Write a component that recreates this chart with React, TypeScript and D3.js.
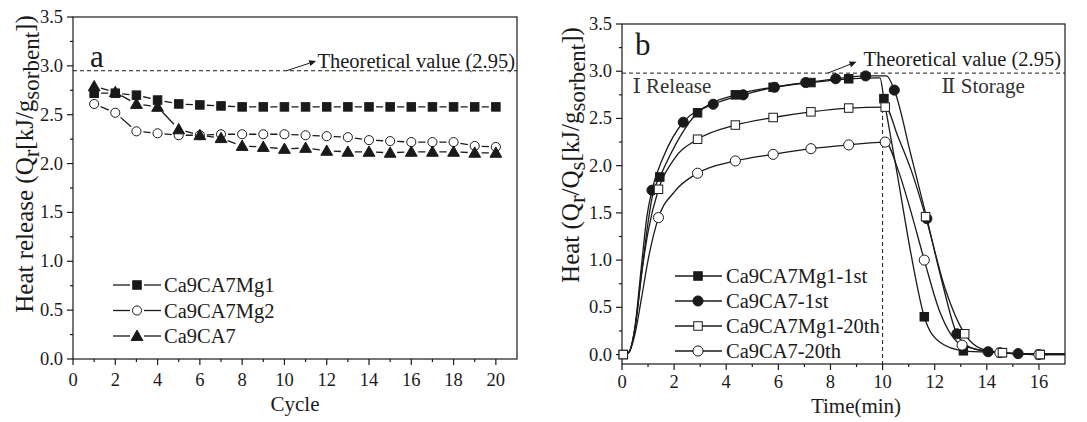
import * as d3 from "d3";

// ---- panel a: heat release per cycle ----
const cycles = [1, 2, 3, 4, 5, 6, 7, 8, 9, 10, 11, 12, 13, 14, 15, 16, 17, 18, 19, 20];
const releaseMg1 = [2.72, 2.72, 2.70, 2.65, 2.61, 2.60, 2.59, 2.58, 2.58, 2.58, 2.58, 2.58, 2.58, 2.58, 2.58, 2.58, 2.58, 2.58, 2.58, 2.58];
const releaseMg2 = [2.61, 2.52, 2.33, 2.31, 2.29, 2.29, 2.30, 2.30, 2.30, 2.30, 2.29, 2.28, 2.27, 2.24, 2.23, 2.22, 2.22, 2.22, 2.18, 2.17];
const releaseCa7 = [2.79, 2.73, 2.61, 2.58, 2.35, 2.29, 2.26, 2.18, 2.17, 2.15, 2.16, 2.13, 2.12, 2.12, 2.11, 2.12, 2.12, 2.12, 2.11, 2.11];

const cycleTicks = [0, 2, 4, 6, 8, 10, 12, 14, 16, 18, 20];
const heatTicks = [0, 0.5, 1, 1.5, 2, 2.5, 3, 3.5];
const timeTicks = [0, 2, 4, 6, 8, 10, 12, 14, 16];
const theoreticalA = 2.95;
const theoreticalB = 2.98;
const switchTime = 10;

// ---- panel b: heat vs time (markers) ----
const mg1FirstTime = [0.05, 1.45, 2.9, 4.35, 5.8, 7.25, 8.7, 10.05, 11.6, 13.1, 14.55, 16.05];
const mg1FirstHeat = [0.0, 1.88, 2.56, 2.75, 2.83, 2.88, 2.92, 2.71, 0.4, 0.04, 0.02, 0.0];
const ca7FirstTime = [1.15, 2.35, 3.5, 4.65, 5.85, 7.05, 8.2, 9.35, 10.45, 11.7, 12.85, 14.05, 15.2];
const ca7FirstHeat = [1.74, 2.46, 2.65, 2.75, 2.83, 2.88, 2.92, 2.95, 2.8, 1.44, 0.22, 0.03, 0.01];
const mg1LastTime = [0.05, 1.4, 2.9, 4.35, 5.8, 7.25, 8.7, 10.1, 11.65, 13.15, 14.6, 16.05];
const mg1LastHeat = [0.0, 1.75, 2.28, 2.43, 2.51, 2.57, 2.61, 2.62, 1.46, 0.22, 0.02, 0.0];
const ca7LastTime = [1.4, 2.9, 4.35, 5.8, 7.25, 8.7, 10.1, 11.6, 13.05, 14.5, 16.0];
const ca7LastHeat = [1.45, 1.92, 2.05, 2.12, 2.18, 2.22, 2.25, 1.0, 0.1, 0.02, 0.0];

// extra points
const mg1FirstKnotTime = [0, 0.25, 0.5, 0.75, 1.0, 1.2, 9.9, 10.6, 11.1, 12.2, 17];
const mg1FirstKnotHeat = [0, 0.02, 0.28, 0.85, 1.4, 1.72, 2.93, 1.85, 1.05, 0.13, 0.01];
const ca7FirstKnotTime = [0, 0.25, 0.5, 0.75, 0.95, 1.6, 10.15, 11.1, 12.3, 13.4, 17];
const ca7FirstKnotHeat = [0, 0.02, 0.3, 0.95, 1.45, 2.1, 2.95, 2.1, 0.75, 0.07, 0.01];
const mg1LastKnotTime = [0, 0.25, 0.5, 0.75, 1.0, 2.0, 10.6, 11.1, 12.4, 13.8, 17];
const mg1LastKnotHeat = [0, 0.02, 0.28, 0.85, 1.3, 2.07, 2.3, 1.95, 0.7, 0.06, 0.0];
const ca7LastKnotTime = [0, 0.25, 0.5, 0.75, 1.0, 2.0, 10.6, 11.1, 12.2, 17];
const ca7LastKnotHeat = [0, 0.02, 0.22, 0.6, 1.0, 1.72, 1.95, 1.5, 0.45, 0.0];

const FONT = "'Liberation Serif', 'DejaVu Serif', serif";
const INK = "#1a1a1a";

type Shape = "square" | "circle" | "triangle";

function Marker({ x, y, shape, filled, size = 9 }: { x: number; y: number; shape: Shape; filled: boolean; size?: number }) {
  const fill = filled ? INK : "#fff";
  const h = size / 2;
  if (shape === "square")
    return <rect x={x - h} y={y - h} width={size} height={size} fill={fill} stroke={INK} strokeWidth={1} />;
  if (shape === "circle") return <circle cx={x} cy={y} r={h + 0.3} fill={fill} stroke={INK} strokeWidth={1} />;
  const t = size * 0.62;
  return <path d={`M${x},${y - t}L${x + t},${y + t * 0.75}L${x - t},${y + t * 0.75}Z`} fill={fill} stroke={INK} strokeWidth={1} />;
}

function gapSegments(pts: [number, number][], gap: number) {
  const out: string[] = [];
  for (let i = 0; i < pts.length - 1; i++) {
    const [x0, y0] = pts[i];
    const [x1, y1] = pts[i + 1];
    const len = Math.hypot(x1 - x0, y1 - y0);
    if (len <= gap * 2 + 1) continue;
    const ux = (x1 - x0) / len;
    const uy = (y1 - y0) / len;
    out.push(`M${x0 + ux * gap},${y0 + uy * gap}L${x1 - ux * gap},${y1 - uy * gap}`);
  }
  return out.join("");
}

function Frame({ x, y, left, top, right, bottom, xTicks, xMinor, yTicks, yMinor }: any) {
  return (
    <g stroke={INK} strokeWidth={1.2} fill="none">
      <rect x={left} y={top} width={right - left} height={bottom - top} />
      {xTicks.map((t: number) => (
        <line key={"xt" + t} x1={x(t)} x2={x(t)} y1={bottom} y2={bottom + 6} />
      ))}
      {xMinor.map((t: number) => (
        <line key={"xm" + t} x1={x(t)} x2={x(t)} y1={bottom} y2={bottom + 3} />
      ))}
      {yTicks.map((t: number) => (
        <line key={"yt" + t} x1={left - 6} x2={left} y1={y(t)} y2={y(t)} />
      ))}
      {yMinor.map((t: number) => (
        <line key={"ym" + t} x1={left - 3} x2={left} y1={y(t)} y2={y(t)} />
      ))}
    </g>
  );
}

function TickLabels({ x, y, left, bottom, xTicks, yTicks, labelDrop }: any) {
  return (
    <g fontFamily={FONT} fontSize={18.5} fill={INK}>
      {xTicks.map((t: number) => (
        <text key={"xl" + t} x={x(t)} y={bottom + labelDrop} textAnchor="middle">
          {t}
        </text>
      ))}
      {yTicks.map((t: number) => (
        <text key={"yl" + t} x={left - 10} y={y(t) + 6} textAnchor="end">
          {t.toFixed(1)}
        </text>
      ))}
    </g>
  );
}

function Arrow({ x1, y1, x2, y2 }: { x1: number; y1: number; x2: number; y2: number }) {
  const a = Math.atan2(y2 - y1, x2 - x1);
  const L = 7;
  const w = 3;
  const bx = x2 - Math.cos(a) * L;
  const by = y2 - Math.sin(a) * L;
  const p1 = [bx + Math.sin(a) * w, by - Math.cos(a) * w];
  const p2 = [bx - Math.sin(a) * w, by + Math.cos(a) * w];
  return (
    <g>
      <line x1={x1} y1={y1} x2={bx} y2={by} stroke={INK} strokeWidth={1} />
      <path d={`M${x2},${y2}L${p1[0]},${p1[1]}L${p2[0]},${p2[1]}Z`} fill={INK} />
    </g>
  );
}

const TITLE = 25;
const SUB = 23;

function PanelA() {
  const left = 73, right = 517, top = 17, bottom = 359;
  const x = d3.scaleLinear().domain([0, 21]).range([left, right]);
  const y = d3.scaleLinear().domain([0, 3.5]).range([bottom, top]);
  const series = [
    { name: "Ca9CA7Mg1", values: releaseMg1, shape: "square" as Shape, filled: true },
    { name: "Ca9CA7Mg2", values: releaseMg2, shape: "circle" as Shape, filled: false },
    { name: "Ca9CA7", values: releaseCa7, shape: "triangle" as Shape, filled: true },
  ];
  const xMinor = d3.range(1, 21, 2);
  const yMinor = d3.range(0.25, 3.5, 0.5);
  return (
    <g>
      <Frame x={x} y={y} left={left} right={right} top={top} bottom={bottom} xTicks={cycleTicks} xMinor={xMinor} yTicks={heatTicks} yMinor={yMinor} />
      <TickLabels x={x} y={y} left={left} bottom={bottom} xTicks={cycleTicks} yTicks={heatTicks} labelDrop={27} />
      <line x1={left} x2={right} y1={y(theoreticalA)} y2={y(theoreticalA)} stroke={INK} strokeWidth={1} strokeDasharray="4,3" />
      <Arrow x1={x(10.1)} y1={y(theoreticalA)} x2={x(11.5)} y2={y(3.05)} />
      <text x={right - 2} y={y(2.98)} textAnchor="end" fontFamily={FONT} fontSize={20.5} fill={INK}>
        Theoretical value (2.95)
      </text>
      <text x={x(0.8)} y={y(3.0) + 1} fontFamily={FONT} fontSize={31} fill={INK}>
        a
      </text>
      {series.map((s) => {
        const pts = cycles.map((c, i) => [x(c), y(s.values[i])] as [number, number]);
        return (
          <g key={s.name}>
            <path d={gapSegments(pts, 7)} stroke={INK} strokeWidth={1.3} fill="none" />
            {pts.map((p, i) => (
              <Marker key={i} x={p[0]} y={p[1]} shape={s.shape} filled={s.filled} size={s.shape === "triangle" ? 9.5 : 8.5} />
            ))}
          </g>
        );
      })}
      <g fontFamily={FONT} fontSize={20.5} fill={INK}>
        {series.map((s, i) => {
          const ly = 285 + i * 25.5;
          return (
            <g key={s.name}>
              <line x1={113} x2={130} y1={ly} y2={ly} stroke={INK} strokeWidth={1.3} />
              <line x1={144} x2={161} y1={ly} y2={ly} stroke={INK} strokeWidth={1.3} />
              <Marker x={137} y={ly} shape={s.shape} filled={s.filled} size={s.shape === "triangle" ? 9.5 : 8.5} />
              <text x={164} y={ly + 7}>
                {s.name}
              </text>
            </g>
          );
        })}
      </g>
      <text x={(left + right) / 2} y={411} textAnchor="middle" fontFamily={FONT} fontSize={21} fill={INK}>
        Cycle
      </text>
      <text transform="translate(33,164) rotate(-90)" textAnchor="middle" fontFamily={FONT} fontSize={TITLE} fill={INK}>
        Heat release (Q<tspan dy={6} fontSize={SUB}>r</tspan>
        <tspan dy={-6}>[kJ/g</tspan>
        <tspan dy={6} fontSize={SUB}>sorbent</tspan>
        <tspan dy={-6}>])</tspan>
      </text>
    </g>
  );
}

function PanelB() {
  const left = 622, right = 1065, top = 24, bottom = 364;
  const x = d3.scaleLinear().domain([0, 17]).range([left, right]);
  const y = d3.scaleLinear().domain([-0.1, 3.5]).range([bottom, top]);
  const series = [
    { name: "Ca9CA7Mg1-1st", t: mg1FirstTime, v: mg1FirstHeat, kt: mg1FirstKnotTime, kv: mg1FirstKnotHeat, shape: "square" as Shape, filled: true },
    { name: "Ca9CA7-1st", t: ca7FirstTime, v: ca7FirstHeat, kt: ca7FirstKnotTime, kv: ca7FirstKnotHeat, shape: "circle" as Shape, filled: true },
    { name: "Ca9CA7Mg1-20th", t: mg1LastTime, v: mg1LastHeat, kt: mg1LastKnotTime, kv: mg1LastKnotHeat, shape: "square" as Shape, filled: false },
    { name: "Ca9CA7-20th", t: ca7LastTime, v: ca7LastHeat, kt: ca7LastKnotTime, kv: ca7LastKnotHeat, shape: "circle" as Shape, filled: false },
  ];
  const line = d3
    .line<[number, number]>()
    .x((d) => x(d[0]))
    .y((d) => y(d[1]))
    .curve(d3.curveMonotoneX);
  const xMinor = d3.range(1, 17, 2);
  const yMinor = d3.range(0.25, 3.5, 0.5);
  const drawOrder = [1, 0, 3, 2];
  return (
    <g>
      <Frame x={x} y={y} left={left} right={right} top={top} bottom={bottom} xTicks={timeTicks} xMinor={xMinor} yTicks={heatTicks} yMinor={yMinor} />
      <TickLabels x={x} y={y} left={left} bottom={bottom} xTicks={timeTicks} yTicks={heatTicks} labelDrop={24} />
      <line x1={left} x2={right} y1={y(theoreticalB)} y2={y(theoreticalB)} stroke={INK} strokeWidth={1} strokeDasharray="4,3" />
      <line x1={x(switchTime)} x2={x(switchTime)} y1={y(2.6)} y2={bottom} stroke={INK} strokeWidth={1} strokeDasharray="4,3" />
      <Arrow x1={x(7.9)} y1={y(theoreticalB)} x2={x(9.0)} y2={y(3.1)} />
      <text x={right - 4} y={y(3.06)} textAnchor="end" fontFamily={FONT} fontSize={20.5} fill={INK}>
        Theoretical value (2.95)
      </text>
      <text x={x(0.5)} y={y(3.17)} fontFamily={FONT} fontSize={31} fill={INK}>
        b
      </text>
      <text x={x(0.4)} y={y(2.77)} fontFamily={FONT} fontSize={21} fill="#333">
        Ⅰ Release
      </text>
      <text x={x(12.25)} y={y(2.77)} fontFamily={FONT} fontSize={21} fill="#333">
        Ⅱ Storage
      </text>
      {series.map((s) => {
        const pts = s.t
          .map((t, i) => [t, s.v[i]] as [number, number])
          .concat(s.kt.map((t, i) => [t, s.kv[i]] as [number, number]))
          .sort((a, b) => a[0] - b[0]);
        return <path key={s.name} d={line(pts) || ""} stroke={INK} strokeWidth={1.3} fill="none" />;
      })}
      {drawOrder.map((k) => {
        const s = series[k];
        return (
          <g key={s.name + "m"}>
            {s.t.map((t, i) => (
              <Marker key={i} x={x(t)} y={y(s.v[i])} shape={s.shape} filled={s.filled} size={s.shape === "circle" ? 9.5 : 8.5} />
            ))}
          </g>
        );
      })}
      <g fontFamily={FONT} fontSize={20.5} fill={INK}>
        {series.map((s, i) => {
          const ly = 276 + i * 25;
          return (
            <g key={s.name}>
              <line x1={675} x2={722} y1={ly} y2={ly} stroke={INK} strokeWidth={1.3} />
              <Marker x={698} y={ly} shape={s.shape} filled={s.filled} size={s.shape === "circle" ? 9.5 : 8.5} />
              <text x={726} y={ly + 7}>
                {s.name}
              </text>
            </g>
          );
        })}
      </g>
      <text x={856} y={413} textAnchor="middle" fontFamily={FONT} fontSize={21} fill={INK}>
        Time(min)
      </text>
      <text transform="translate(579,155) rotate(-90)" textAnchor="middle" fontFamily={FONT} fontSize={TITLE} fill={INK}>
        Heat (Q<tspan dy={6} fontSize={SUB}>r</tspan>
        <tspan dy={-6}>/Q</tspan>
        <tspan dy={6} fontSize={SUB}>s</tspan>
        <tspan dy={-6}>[kJ/g</tspan>
        <tspan dy={6} fontSize={SUB}>sorbent</tspan>
        <tspan dy={-6}>])</tspan>
      </text>
    </g>
  );
}

export default function App() {
  return (
    <svg
      width={1087}
      height={422}
      viewBox="0 0 1087 422"
      style={{ position: "absolute", left: 0, top: 0, background: "#fff" }}
    >
      <rect width={1087} height={422} fill="#fff" />
      <PanelA />
      <PanelB />
    </svg>
  );
}
